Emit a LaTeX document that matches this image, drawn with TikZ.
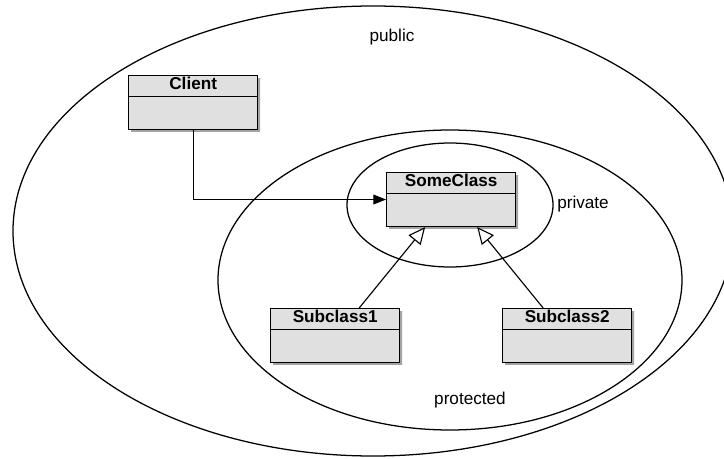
\documentclass[tikz,border=0pt]{standalone}
\usepackage{fontspec}
\setmainfont{Liberation Sans}
\usetikzlibrary{arrows.meta,shapes.multipart,shadows,positioning}

\newcommand{\clshead}{\rule[-4.3pt]{0pt}{14pt}}
\newcommand{\clsbody}{\rule{0pt}{22.3pt}}

\begin{document}
\begin{tikzpicture}
[x=0.025cm, y=-0.025cm,
font=\fontsize{12.2}{14}\selectfont,
cls/.style={rectangle split, rectangle split parts=2, draw, line width=0.95pt, fill=black!12, minimum width=3.225cm, inner xsep=0pt, inner ysep=0pt, anchor=north west, font=\fontsize{12.2}{14}\selectfont\bfseries, drop shadow={shadow xshift=0.06cm, shadow yshift=-0.06cm, fill=black!60, opacity=.6}},
scopeln/.style={line width=0.9pt},
scopelab/.style={inner sep=0pt},
assoc/.style={line width=0.8pt, -{Triangle[length=9pt, width=7pt]}},
inherit/.style={line width=0.8pt, -{Triangle[open, length=12pt, width=11pt, fill=white]}}]

	\useasboundingbox (0,0) rectangle (724,459);

	% visibility scopes
	\draw[scopeln] (373,231) ellipse [x radius=360, y radius=225];
	\draw[scopeln] (450,280) ellipse [x radius=232, y radius=150];
	\draw[scopeln] (450,205) ellipse [x radius=103, y radius=62];

	\node (labpub) at (392,37) [scopelab] {public};
	\node (labpriv) at (583,204) [scopelab] {private};
	\node (labprot) at (470,400) [scopelab] {protected};

	% classes
	\node (client) at (128,75) [cls] {\clshead Client\nodepart{two}\clsbody};
	\node (some) at (386,172) [cls] {\clshead SomeClass\nodepart{two}\clsbody};
	\node (sub1) at (270,308) [cls] {\clshead Subclass1\nodepart{two}\clsbody};
	\node (sub2) at (502,308) [cls] {\clshead Subclass2\nodepart{two}\clsbody};

	\draw[assoc] (client) |- (some);
	\draw[inherit] ([xshift=0.6cm]sub1.north) -- ([xshift=-0.65cm]some.south);
	\draw[inherit] ([xshift=-0.6cm]sub2.north) -- ([xshift=0.65cm]some.south);

\end{tikzpicture}
\end{document}
